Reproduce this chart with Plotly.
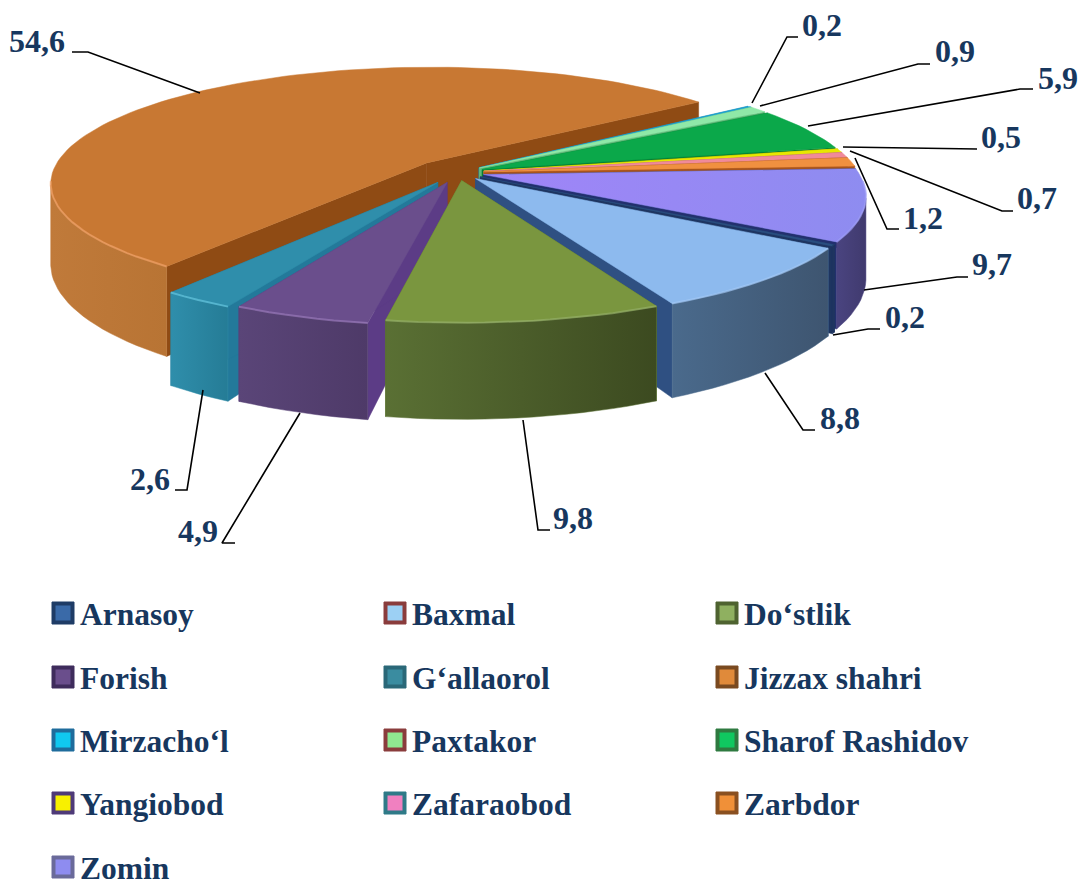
import math
import plotly.graph_objects as go

# ---- data ----
categories = ["Arnasoy", "Baxmal", "Do‘stlik", "Forish", "G‘allaorol", "Jizzax shahri",
              "Mirzacho‘l", "Paxtakor", "Sharof Rashidov", "Yangiobod", "Zafaraobod", "Zarbdor", "Zomin"]
values = [0.2, 8.8, 9.8, 4.9, 2.6, 54.6, 0.2, 0.9, 5.9, 0.5, 0.7, 1.2, 9.7]

# ---- styles ----
top_colors = ["#2A4F80", "#8DBAEE", "#7A963F", "#6A4E8C", "#2F8EAB", "#C87833",
              "#20A8D8", "#8FE8A8", "#0BA84A", "#E8E800", "#F08A9A", "#F09040", "#8E8CF0"]
top_colors_left = {12: "#A084F8"}
wall_left = ["#1E3560", "#4A6A8C", "#5A7034", "#5A4578", "#2F8EAB", "#C07A3A",
             "#1A90B8", "#70C888", "#088A3C", "#C0C000", "#D07080", "#C87030", "#4A4480"]
wall_right = ["#1E3560", "#3E5570", "#3C4A20", "#4E3A68", "#257C96", "#B87434",
              "#1A90B8", "#70C888", "#088A3C", "#C0C000", "#D07080", "#C87030", "#403A6E"]
radial_colors = ["#1E3560", "#2F5082", "#5F7A2C", "#5C3C86", "#23799A", "#8F4B14",
                 "#1A90B8", "#60B878", "#067A34", "#A0A000", "#B06070", "#A8541C", "#22306E"]
rim_colors = ["#1E3560", "#A8CCF8", "#9AB470", "#A080C0", "#70D0E8", "#F8A870",
              "#70D0F0", "#C0F8D0", "#40D080", "#FFFF60", "#FFC0D0", "#FFC080", "#A0A0F8"]
legend_light = ["#3A6AA8", "#9CD0F4", "#8FB060", "#6A4E8C", "#3A8CA0", "#E08A3A",
                "#10C8F0", "#90E890", "#10C860", "#F8F000", "#F080C0", "#F09038", "#8E8CF0"]
legend_dark = ["#1F3C66", "#8A3C3C", "#4F6330", "#3F2C5C", "#2A6878", "#7A4A20",
               "#1F6C9C", "#8A3C3C", "#2F7A40", "#4F3A78", "#2F7A88", "#8A5020", "#6A6A9A"]
TEXT = "#17375E"
FONT = "Liberation Serif"

CX, CY, RX, RY, PERSP, H, START = 458, 172.5, 375, 115, 0.17, 79, 122.0
explode = [0.07, 0.07, 0.07, 0.09, 0.10, 0.12, 0.07, 0.07, 0.07, 0.07, 0.07, 0.07, 0.07]


def project(u, v, z=0.0):
    s = 1 / (1 - PERSP * v)
    return CX + RX * u * s, CY + RY * v * s + z * H * s


def unit(deg):
    a = math.radians(deg)
    return math.sin(a), -math.cos(a)


# cumulative slice angles derived from the values
total = sum(values)
slices = []
acc = START
for i, val in enumerate(values):
    sweep = val / total * 360
    slices.append((i, acc, acc + sweep))
    acc += sweep

fig = go.Figure()


def poly(pts, color, grad=None):
    kw = dict(fillgradient=dict(type="horizontal", colorscale=[[0, grad[0]], [1, grad[1]]])) if grad else dict(fillcolor=color)
    fig.add_trace(go.Scatter(x=[p[0] for p in pts] + [pts[0][0]], y=[p[1] for p in pts] + [pts[0][1]],
                             mode="lines", fill="toself", line=dict(color=color, width=0.5),
                             hoverinfo="skip", showlegend=False, **kw))


def depth(s):
    return unit((s[1] + s[2]) / 2)[1]


for i, a0, a1 in sorted(slices, key=depth):
    mu, mv = unit((a0 + a1) / 2)
    ou, ov = mu * explode[i], mv * explode[i]
    n = max(3, int((a1 - a0) / 2))
    angs = [a0 + (a1 - a0) * k / n for k in range(n + 1)]
    ring = [(ou + unit(a)[0], ov + unit(a)[1]) for a in angs]
    top = [project(u, v) for u, v in ring]
    bot = [project(u, v, 1) for u, v in ring]
    tip_t, tip_b = project(ou, ov), project(ou, ov, 1)
    # radial cut faces
    poly([tip_t, top[0], bot[0], tip_b], radial_colors[i])
    poly([tip_t, top[-1], bot[-1], tip_b], radial_colors[i])
    # outer wall: only the part of the arc that faces the viewer
    vis = []
    for a in angs:
        x_now = project(ou + unit(a)[0], ov + unit(a)[1])[0]
        x_next = project(ou + unit(a + 0.5)[0], ov + unit(a + 0.5)[1])[0]
        vis.append(x_next < x_now)
    wt = [p for p, f in zip(top, vis) if f]
    wb = [p for p, f in zip(bot, vis) if f]
    if len(wt) > 1:
        poly(wt + wb[::-1], wall_left[i], (wall_left[i], wall_right[i]))
    grad = (top_colors_left[i], top_colors[i]) if i in top_colors_left else None
    poly([tip_t] + top, top_colors[i], grad)
    # highlight on the near part of the rim
    front = [p for p, r in zip(top, ring) if r[1] > 0.05]
    if len(front) > 1:
        fig.add_trace(go.Scatter(x=[p[0] for p in front], y=[p[1] for p in front], mode="lines",
                                 line=dict(color=rim_colors[i], width=2), opacity=0.6,
                                 hoverinfo="skip", showlegend=False))

# ---- leader lines and value labels (layout placement, pixels) ----
label_layout = {
    0: ((905, 320), [(880, 329), (868, 329), (833, 335)]),
    1: ((840, 421), [(815, 430), (803, 430), (765, 373)]),
    2: ((573, 521), [(550, 530), (538, 530), (523, 420)]),
    3: ((198, 534), [(235, 543), (222, 543), (300, 413)]),
    4: ((150, 482), [(175, 490), (187, 490), (203, 390)]),
    5: ((37, 44), [(72, 52), (88, 52), (200, 93)]),
    6: ((822, 28), [(798, 37), (787, 37), (752, 103)]),
    7: ((955, 54), [(930, 64), (918, 64), (760, 106)]),
    8: ((1058, 81), [(1033, 89), (1020, 89), (808, 126)]),
    9: ((1001, 140), [(977, 149), (843, 147)]),
    10: ((1037, 201), [(1013, 211), (1002, 211), (850, 151)]),
    11: ((923, 221), [(899, 229), (887, 229), (855, 158)]),
    12: ((992, 267), [(968, 277), (957, 277), (864, 290)]),
}
for i, (pos, line) in label_layout.items():
    fig.add_trace(go.Scatter(x=[p[0] for p in line], y=[p[1] for p in line], mode="lines",
                             line=dict(color="#000000", width=1.6), hoverinfo="skip", showlegend=False))
    fig.add_trace(go.Scatter(x=[pos[0]], y=[pos[1]], mode="text", text=[f"{values[i]:.1f}".replace(".", ",")],
                             textposition="middle center",
                             textfont=dict(family=FONT, size=32, color=TEXT, weight="bold"),
                             hoverinfo="skip", showlegend=False))

# ---- legend grid (3 columns) ----
col_x = [63, 395, 727]
row_y = [613, 677, 740, 803, 867]
for i, name in enumerate(categories):
    x, y = col_x[i % 3], row_y[i // 3]
    fig.add_trace(go.Scatter(x=[x], y=[y], mode="markers", name=name,
                             marker=dict(symbol="square", size=22, color=legend_dark[i],
                                         line=dict(color=legend_dark[i], width=1)),
                             hoverinfo="skip", showlegend=False))
    fig.add_trace(go.Scatter(x=[x], y=[y], mode="markers",
                             marker=dict(symbol="square", size=15, color=legend_light[i],
                                         line=dict(width=0)),
                             hoverinfo="skip", showlegend=False))
    fig.add_trace(go.Scatter(x=[x + 17], y=[y + 4], mode="text", text=[name], textposition="middle right",
                             textfont=dict(family=FONT, size=31.5, color=TEXT, weight="bold"),
                             hoverinfo="skip", showlegend=False))

fig.update_layout(width=1079, height=879, margin=dict(l=0, r=0, t=0, b=0),
                  paper_bgcolor="white", plot_bgcolor="white",
                  xaxis=dict(range=[0, 1079], visible=False, fixedrange=True),
                  yaxis=dict(range=[879, 0], visible=False, fixedrange=True))
fig.write_html("out.html", config=dict(displayModeBar=False),
               post_script="document.body.style.margin='0';")
